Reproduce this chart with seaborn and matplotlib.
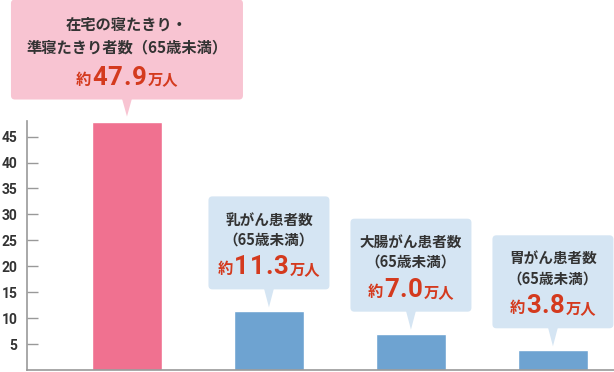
"""Bar chart of bedridden / cancer patients under 65, with speech-bubble callouts."""

import matplotlib.pyplot as plt
import matplotlib.transforms as mtransforms
from matplotlib.patches import FancyBboxPatch, Polygon
from matplotlib.offsetbox import TextArea, HPacker, AnnotationBbox
import pandas as pd
import seaborn as sns

categories = ["在宅寝たきり", "乳がん", "大腸がん", "胃がん"]
values = [47.9, 11.3, 7.0, 3.8]
value_labels = ["47.9", "11.3", "7.0", "3.8"]
titles = [["在宅の寝たきり・", "準寝たきり者数（65歳未満）"],
          ["乳がん患者数", "（65歳未満）"],
          ["大腸がん患者数", "（65歳未満）"],
          ["胃がん患者数", "（65歳未満）"]]
y_ticks = [5, 10, 15, 20, 25, 30, 35, 40, 45]

bar_colors = ["#f07190", "#6ea3d1", "#6ea3d1", "#6ea3d1"]
bubble_colors = ["#f8c4d2", "#d5e5f3", "#d5e5f3", "#d5e5f3"]
RED = "#d43a1e"
DARK = "#333333"
JP = ["Noto Sans CJK JP", "DejaVu Sans"]
NUM = ["Roboto", "Noto Sans CJK JP"]
DPI = 100


def main():
    sns.set_style("white")
    plt.rcParams["font.family"] = JP
    fig = plt.figure(figsize=(6.14, 3.72), dpi=DPI)
    ax = fig.add_axes([27 / 614, 2 / 372, 1 - 27 / 614, 249 / 372])

    df = pd.DataFrame({"cat": categories, "val": values})
    sns.barplot(data=df, x="cat", y="val", hue="cat", palette=bar_colors,
                width=0.493, legend=False, saturation=1, ax=ax)

    ax.set_xlim(-0.704, 3.43)
    ax.set_ylim(0, 48)
    ax.set_xlabel("")
    ax.set_ylabel("")
    ax.set_xticks([])
    ax.set_yticks(y_ticks)
    ax.set_yticklabels([str(t) for t in y_ticks], fontweight="bold",
                       color=DARK, fontsize=10, family=NUM)
    ax.tick_params(axis="y", direction="in", length=8, width=1,
                   color="#999999", pad=7, left=True)
    for side in ["top", "right"]:
        ax.spines[side].set_visible(False)
    for side in ["left", "bottom"]:
        ax.spines[side].set_color("#999999")
        ax.spines[side].set_linewidth(1.2)

    for i, v in enumerate(values):
        big = i == 0
        w = 232 if big else 121
        h = 100 if big else 93
        tip_gap = 5 if big else 4
        ptr = 17 if big else 18
        base = tip_gap + ptr
        # pixel coordinates measured from the top of the bar
        trans = (mtransforms.Affine2D().scale(1 / DPI) + fig.dpi_scale_trans
                 + mtransforms.ScaledTranslation(i, v, ax.transData))
        box = FancyBboxPatch((-w / 2 + 4, base + 4), w - 8, h - 8,
                             boxstyle="round,pad=4", transform=trans,
                             facecolor=bubble_colors[i], edgecolor="none",
                             clip_on=False, zorder=2)
        fig.add_artist(box)
        tri = Polygon([(-5, base + 1), (5, base + 1), (0, tip_gap)],
                      closed=True, transform=trans, facecolor=bubble_colors[i],
                      edgecolor="none", clip_on=False, zorder=2)
        fig.add_artist(tri)

        fs = 11 if big else 10.5
        l1, l2 = (75, 52) if big else (70, 50)
        fig.text(0, base + l1, titles[i][0], transform=trans, ha="center",
                 va="center", fontsize=fs, fontweight="bold", color=DARK, zorder=3)
        fig.text(0, base + l2, titles[i][1], transform=trans, ha="center",
                 va="center", fontsize=fs, fontweight="bold", color=DARK, zorder=3)

        small = dict(fontsize=11, fontweight="bold", color=RED, family=JP)
        num = dict(fontsize=18.5, fontweight="bold", color=RED, family=NUM)
        digits = HPacker(children=[TextArea(c, textprops=num) for c in value_labels[i]],
                         align="baseline", pad=0, sep=0.6)
        pack = HPacker(children=[TextArea("約", textprops=small), digits,
                                 TextArea("万人", textprops=small)],
                       align="baseline", pad=0, sep=1)
        ab = AnnotationBbox(pack, (0, base + 22), xycoords=trans,
                            frameon=False, box_alignment=(0.5, 0.5),
                            annotation_clip=False, zorder=4)
        fig.add_artist(ab)

    plt.savefig("out.png", dpi=DPI)
    plt.close()


if __name__ == "__main__":
    main()
